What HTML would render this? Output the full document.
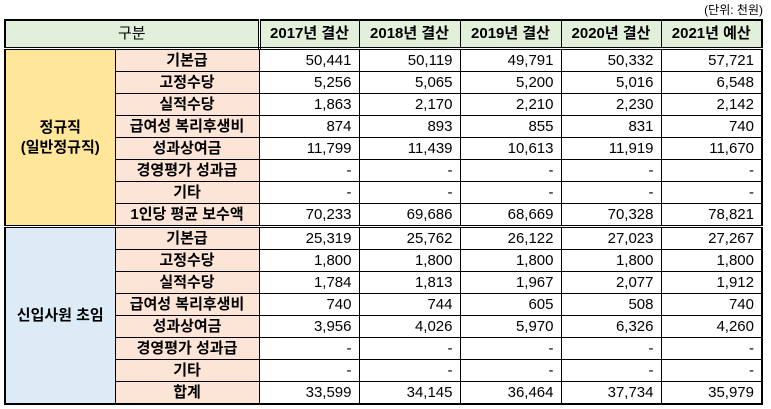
<!DOCTYPE html>
<html><head><meta charset="utf-8"><style>
body{margin:0;width:771px;height:409px;background:#fff;font-family:"Liberation Sans","Noto Sans CJK KR",sans-serif;position:relative;overflow:hidden}
.unit{position:absolute;right:8px;top:1px;font-size:12px;color:#000}
table{position:absolute;left:4px;top:19px;border-collapse:collapse;border:2px solid #000;table-layout:fixed}
td{border:1px solid #000;height:21px;padding:0 7px;font-size:15px;line-height:20px;white-space:nowrap;overflow:hidden}
.h td{height:26px;background:#e2efda;font-weight:bold;text-align:center;border-bottom:3px double #000}
.h td:first-child{border-right:3px double #000;font-weight:normal}
.l{background:#fce4d6;text-align:center;font-weight:bold;border-right:1px solid #000}
.n{text-align:right}
.y{background:#ffe699;text-align:center;font-weight:bold}
.b{background:#ddebf7;text-align:center;font-weight:bold}
.sep td{border-bottom:3px double #000}
</style></head><body>
<div class="unit">(단위: 천원)</div>
<table>
<colgroup><col style="width:110px"><col style="width:144px"><col style="width:100px"><col style="width:101px"><col style="width:101px"><col style="width:100px"><col style="width:101px"></colgroup>
<tr class="h"><td colspan="2">구분</td><td>2017년 결산</td><td>2018년 결산</td><td>2019년 결산</td><td>2020년 결산</td><td>2021년 예산</td></tr>
<tr><td class="y" rowspan="8" style="border-bottom:3px double #000">정규직<br>(일반정규직)</td><td class="l">기본급</td><td class="n">50,441</td><td class="n">50,119</td><td class="n">49,791</td><td class="n">50,332</td><td class="n">57,721</td></tr>
<tr><td class="l">고정수당</td><td class="n">5,256</td><td class="n">5,065</td><td class="n">5,200</td><td class="n">5,016</td><td class="n">6,548</td></tr>
<tr><td class="l">실적수당</td><td class="n">1,863</td><td class="n">2,170</td><td class="n">2,210</td><td class="n">2,230</td><td class="n">2,142</td></tr>
<tr><td class="l">급여성 복리후생비</td><td class="n">874</td><td class="n">893</td><td class="n">855</td><td class="n">831</td><td class="n">740</td></tr>
<tr><td class="l">성과상여금</td><td class="n">11,799</td><td class="n">11,439</td><td class="n">10,613</td><td class="n">11,919</td><td class="n">11,670</td></tr>
<tr><td class="l">경영평가 성과급</td><td class="n">-</td><td class="n">-</td><td class="n">-</td><td class="n">-</td><td class="n">-</td></tr>
<tr><td class="l">기타</td><td class="n">-</td><td class="n">-</td><td class="n">-</td><td class="n">-</td><td class="n">-</td></tr>
<tr class="sep"><td class="l">1인당 평균 보수액</td><td class="n">70,233</td><td class="n">69,686</td><td class="n">68,669</td><td class="n">70,328</td><td class="n">78,821</td></tr>
<tr><td class="b" rowspan="8">신입사원 초임</td><td class="l">기본급</td><td class="n">25,319</td><td class="n">25,762</td><td class="n">26,122</td><td class="n">27,023</td><td class="n">27,267</td></tr>
<tr><td class="l">고정수당</td><td class="n">1,800</td><td class="n">1,800</td><td class="n">1,800</td><td class="n">1,800</td><td class="n">1,800</td></tr>
<tr><td class="l">실적수당</td><td class="n">1,784</td><td class="n">1,813</td><td class="n">1,967</td><td class="n">2,077</td><td class="n">1,912</td></tr>
<tr><td class="l">급여성 복리후생비</td><td class="n">740</td><td class="n">744</td><td class="n">605</td><td class="n">508</td><td class="n">740</td></tr>
<tr><td class="l">성과상여금</td><td class="n">3,956</td><td class="n">4,026</td><td class="n">5,970</td><td class="n">6,326</td><td class="n">4,260</td></tr>
<tr><td class="l">경영평가 성과급</td><td class="n">-</td><td class="n">-</td><td class="n">-</td><td class="n">-</td><td class="n">-</td></tr>
<tr><td class="l">기타</td><td class="n">-</td><td class="n">-</td><td class="n">-</td><td class="n">-</td><td class="n">-</td></tr>
<tr><td class="l">합계</td><td class="n">33,599</td><td class="n">34,145</td><td class="n">36,464</td><td class="n">37,734</td><td class="n">35,979</td></tr>
</table>
</body></html>
